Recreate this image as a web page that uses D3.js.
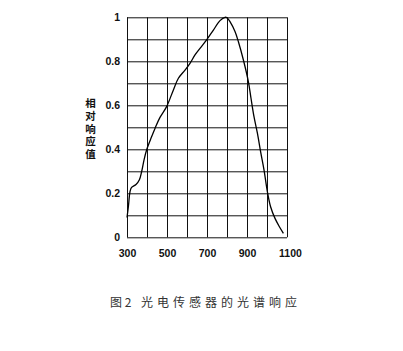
<!DOCTYPE html>
<html>
<head>
<meta charset="utf-8">
<script src="https://cdn.jsdelivr.net/npm/d3@7"></script>
<style>
  body { margin: 0; background: #fff; }
  svg { display: block; }
  .grid line { stroke: #111; stroke-width: 1; }
  .grid path { display: none; }
  .labels path, .labels line { display: none; }
  .labels text { font-family: 'Liberation Sans', Arial, sans-serif; font-weight: bold; font-size: 10.5px; fill: #111; }
</style>
</head>
<body>
<div id="chart"></div>
<script>
const chartWidth = 403
const chartHeight = 351
const plot = { left: 127, right: 287, top: 17.3, bottom: 237.3 }

// wavelength (nm) and relative response
const wavelength = [300, 307, 315, 323, 345, 362, 373, 385, 398, 423, 440, 465, 498, 532, 557, 590, 615, 640,
  665, 698, 732, 765, 790, 800, 815, 840, 857, 882, 907, 920, 935, 952, 968, 985, 1002, 1018, 1040, 1062, 1082]
const response = [0.09, 0.14, 0.207, 0.227, 0.24, 0.262, 0.298, 0.351, 0.397, 0.457, 0.495, 0.545, 0.594, 0.67,
  0.723, 0.76, 0.791, 0.829, 0.859, 0.897, 0.942, 0.985, 1.0, 0.998, 0.98, 0.935, 0.889, 0.806, 0.707, 0.632,
  0.548, 0.473, 0.389, 0.306, 0.207, 0.139, 0.086, 0.048, 0.018]

const xTicks = [300, 500, 700, 900, 1100]
const yTicks = [0, 0.2, 0.4, 0.6, 0.8, 1]
const xGrid = d3.range(300, 1101, 100)
const yGrid = d3.range(0, 11).map(i => i / 10)
const yTitle = '相对响应值'
const caption = ['图 2', '光电传感器的光谱响应']

const svg = d3.select('#chart').append('svg').attr('width', chartWidth).attr('height', chartHeight)

const xScale = d3.scaleLinear().domain([300, 1100]).range([plot.left, plot.right])
const yScale = d3.scaleLinear().domain([0, 1]).range([plot.bottom, plot.top])

// grid
svg.append('g')
  .attr('class', 'grid')
  .attr('transform', `translate(0,${plot.bottom})`)
  .call(d3.axisBottom(xScale).tickValues(xGrid).tickSize(-(plot.bottom - plot.top)).tickFormat(''))

svg.append('g')
  .attr('class', 'grid')
  .attr('transform', `translate(${plot.left},0)`)
  .call(d3.axisLeft(yScale).tickValues(yGrid).tickSize(-(plot.right - plot.left)).tickFormat(''))

// tick labels
svg.append('g')
  .attr('class', 'labels')
  .attr('transform', `translate(0,${plot.bottom + 9})`)
  .call(d3.axisBottom(xScale).tickValues(xTicks).tickSize(0).tickFormat(d3.format('d')))
  .selectAll('text')
  .attr('dx', d => (d === 1100 ? 3 : 0))

svg.append('g')
  .attr('class', 'labels')
  .attr('transform', `translate(${plot.left - 4},0)`)
  .call(d3.axisLeft(yScale).tickValues(yTicks).tickSize(0).tickFormat(d => (d === 0 || d === 1 ? d : d3.format('.1f')(d))))

// curve
const points = wavelength.map((w, i) => [w, response[i]])
svg.append('path')
  .datum(points)
  .attr('fill', 'none')
  .attr('stroke', '#000')
  .attr('stroke-width', 1.3)
  .attr('d', d3.line()
    .x(d => xScale(d[0]))
    .y(d => yScale(d[1]))
    .curve(d3.curveCatmullRom))

// y title, one vertical column
svg.append('text')
  .attr('x', 90.5)
  .attr('y', 97.5)
  .style('writing-mode', 'vertical-rl')
  .style('letter-spacing', '2.4px')
  .style('font-family', "'Noto Sans CJK SC', sans-serif")
  .style('font-weight', 'bold')
  .style('font-size', '10.5px')
  .style('fill', '#111')
  .text(yTitle)

// caption
svg.append('text')
  .attr('x', 110)
  .attr('y', 301)
  .attr('dominant-baseline', 'central')
  .style('font-family', "'Noto Sans CJK SC', sans-serif")
  .style('font-size', '12px')
  .style('fill', '#333')
  .text(caption[0])

svg.append('text')
  .attr('x', 141)
  .attr('y', 301)
  .attr('dominant-baseline', 'central')
  .attr('textLength', 156)
  .style('font-family', "'Noto Sans CJK SC', sans-serif")
  .style('font-size', '12px')
  .style('fill', '#333')
  .text(caption[1])
</script>
</body>
</html>
